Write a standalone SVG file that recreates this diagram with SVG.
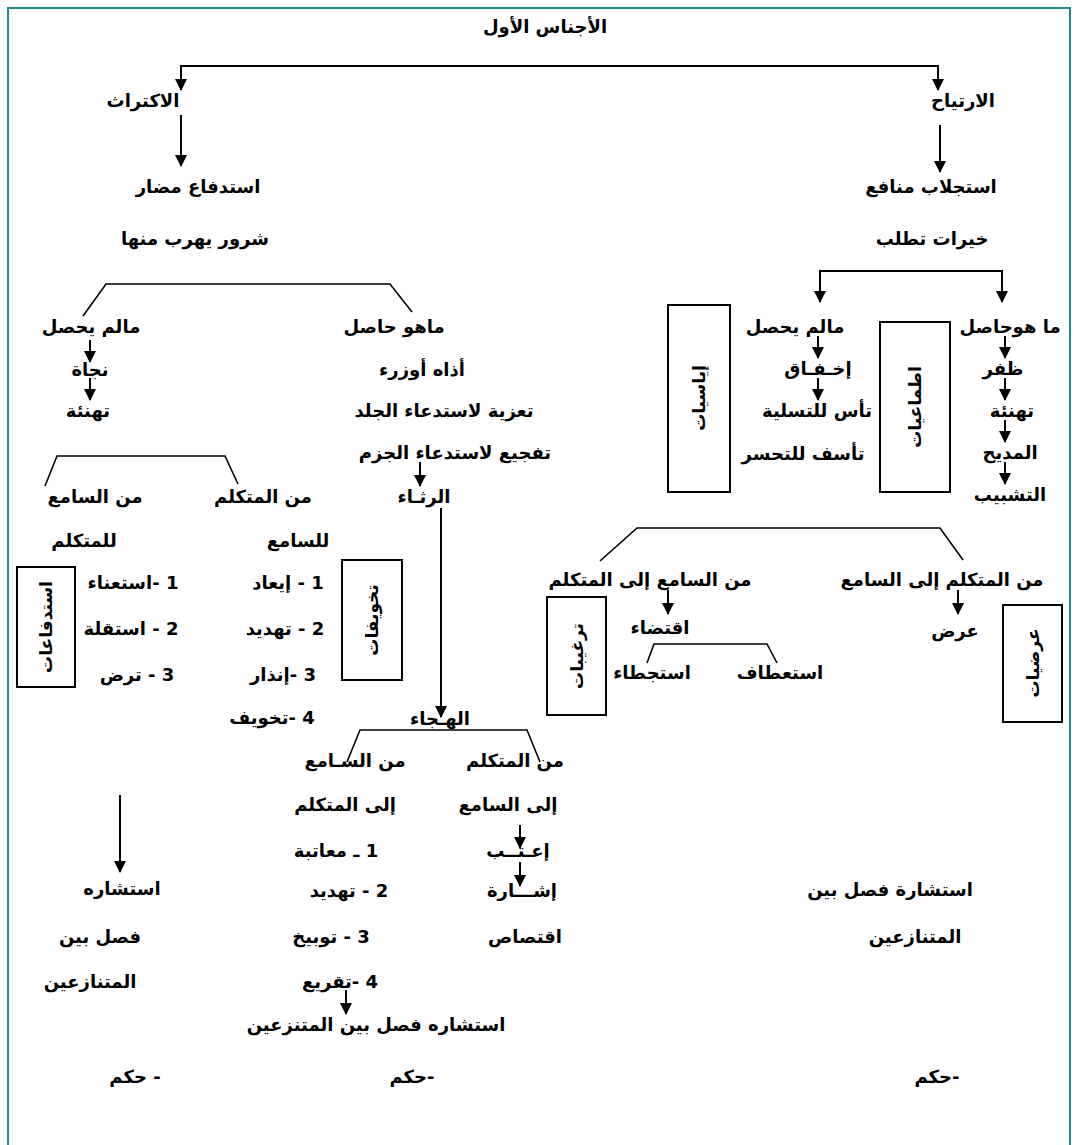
<svg xmlns="http://www.w3.org/2000/svg" width="1075" height="1145" viewBox="0 0 1075 1145">
<defs>
<marker id="ah" markerUnits="userSpaceOnUse" markerWidth="12" markerHeight="12" refX="11" refY="6" orient="auto">
<path d="M0,0 L12,6 L0,12 z" fill="#000"/>
</marker>
<style>
text{font-family:"DejaVu Sans","Noto Sans",sans-serif;font-size:18px;font-weight:bold;fill:#000;direction:rtl;text-anchor:middle}
.bx{font-size:17px}
.ln{stroke:#000;stroke-width:2;fill:none}
.br{stroke:#000;stroke-width:1.6;fill:none}
.ar{stroke:#000;stroke-width:2;fill:none;marker-end:url(#ah)}
.box{stroke:#000;stroke-width:2;fill:#fff}
</style>
</defs>
<rect width="1075" height="1145" fill="#fff"/>
<path d="M8,1145 L8,8 L1070,8 L1070,1145" fill="none" stroke="#1a8a8a" stroke-width="2"/>

<g id="connectors">
<path class="ln" d="M181,66 L938,66"/>
<path class="ar" d="M181,65 L181,90"/>
<path class="ar" d="M938,65 L938,90"/>
<path class="ar" d="M181,115 L181,166"/>
<path class="ar" d="M940,125 L940,172"/>
<path class="br" d="M83,316 L106,284 L390,284 L412,312"/>
<path class="ar" d="M90,340 L90,362"/>
<path class="ar" d="M90,378 L90,400"/>
<path class="ar" d="M420,462 L420,486"/>
<path class="ar" d="M441,508 L441,717"/>
<path class="br" d="M45,486 L57,456 L225,456 L238,484"/>
<path class="ln" d="M820,300 L820,271 L1002,271 L1002,300"/>
<path class="ar" d="M820,280 L820,302"/>
<path class="ar" d="M1002,280 L1002,302"/>
<path class="ar" d="M818,336 L818,358"/>
<path class="ar" d="M818,378 L818,400"/>
<path class="ar" d="M1005,336 L1005,358"/>
<path class="ar" d="M1005,378 L1005,400"/>
<path class="ar" d="M1005,420 L1005,442"/>
<path class="ar" d="M1005,462 L1005,484"/>
<path class="br" d="M600,561 L637,528 L940,528 L963,560"/>
<path class="ar" d="M668,590 L668,614"/>
<path class="br" d="M647,663 L654,644 L767,644 L777,663"/>
<path class="ar" d="M958,590 L958,614"/>
<path class="br" d="M347,762 L360,730 L527,730 L540,762"/>
<path class="ar" d="M520,825 L520,848"/>
<path class="ar" d="M520,862 L520,886"/>
<path class="ar" d="M120,795 L120,872"/>
<path class="ar" d="M346,990 L346,1014"/>
</g>

<g id="title"><text x="545" y="33">الأجناس الأول</text></g>
<g id="n-iktirath"><text x="143" y="107">الاكتراث</text></g>
<g id="n-irtiyah"><text x="963" y="107">الارتياح</text></g>
<g id="n-istidfa"><text x="198" y="193">استدفاع مضار</text></g>
<g id="n-istijlab"><text x="931" y="193">استجلاب منافع</text></g>
<g id="n-shurur"><text x="195" y="245">شرور يهرب منها</text></g>
<g id="n-khayrat"><text x="932" y="245">خيرات تطلب</text></g>

<g id="n-lm-left"><text x="91" y="333">مالم يحصل</text></g>
<g id="n-najat"><text x="90" y="376">نجاة</text></g>
<g id="n-tahnia-left"><text x="88" y="417">تهنئة</text></g>
<g id="n-mh-left"><text x="394" y="333">ماهو حاصل</text></g>
<g id="n-adhah"><text x="422" y="376">أذاه أوزرء</text></g>
<g id="n-taziya"><text x="444" y="417">تعزية لاستدعاء الجلد</text></g>
<g id="n-tafji"><text x="455" y="459">تفجيع لاستدعاء الجزم</text></g>
<g id="n-ritha"><text x="424" y="503">الرثـاء</text></g>

<g id="n-minsami-l"><text x="95" y="503">من السامع</text></g>
<g id="n-minmutak-l"><text x="263" y="503">من المتكلم</text></g>
<g id="n-lilmutak"><text x="84" y="547">للمتكلم</text></g>
<g id="n-lilsami"><text x="298" y="547">للسامع</text></g>

<g id="box-istidfaat"><rect class="box" x="17" y="567" width="58" height="120"/><text class="bx" transform="translate(52,627) rotate(-90)">استدفاعات</text></g>
<g id="n-l1"><text x="133" y="589">1 -استعناء</text></g>
<g id="n-l2"><text x="131" y="635">2 - استقلة</text></g>
<g id="n-l3"><text x="137" y="681">3 - ترض</text></g>
<g id="n-m1"><text x="288" y="589">1 - إيعاد</text></g>
<g id="n-m2"><text x="285" y="635">2 - تهديد</text></g>
<g id="n-m3"><text x="283" y="681">3 -إنذار</text></g>
<g id="n-m4"><text x="272" y="724">4 -تخويف</text></g>
<g id="box-takhwifat"><rect class="box" x="342" y="560" width="60" height="120"/><text class="bx" transform="translate(378,620) rotate(-90)">تخويفات</text></g>

<g id="n-hija"><text x="440" y="725">الهـجاء</text></g>
<g id="n-minsami-m"><text x="355" y="767">من السـامع</text></g>
<g id="n-minmutak-m"><text x="515" y="767">من المتكلم</text></g>
<g id="n-ila-mutak"><text x="345" y="811">إلى المتكلم</text></g>
<g id="n-ila-sami"><text x="508" y="811">إلى السامع</text></g>
<g id="n-h1"><text x="336" y="857">1 ـ معاتبة</text></g>
<g id="n-h2"><text x="349" y="897">2 - تهديد</text></g>
<g id="n-h3"><text x="331" y="943">3 - توبيخ</text></g>
<g id="n-h4"><text x="340" y="988">4 -تقريع</text></g>
<g id="n-itab"><text x="518" y="857">إعـتــب</text></g>
<g id="n-ishara"><text x="522" y="897">إشـــارة</text></g>
<g id="n-iqtisas"><text x="525" y="943">اقتصاص</text></g>
<g id="n-istishara-m"><text x="376" y="1031">استشاره فصل بين المتنزعين</text></g>

<g id="n-istishara-l"><text x="122" y="895">استشاره</text></g>
<g id="n-fasl-l"><text x="100" y="943">فصل بين</text></g>
<g id="n-mutanazi-l"><text x="90" y="988">المتنازعين</text></g>

<g id="n-lm-right"><text x="795" y="333">مالم يحصل</text></g>
<g id="n-mh-right"><text x="1010" y="333">ما هوحاصل</text></g>
<g id="box-iyasiyat"><rect class="box" x="668" y="305" width="62" height="187"/><text class="bx" transform="translate(705,398) rotate(-90)">إياسيات</text></g>
<g id="box-itmaiyat"><rect class="box" x="880" y="322" width="70" height="170"/><text class="bx" transform="translate(921,407) rotate(-90)">اطماعيات</text></g>
<g id="n-ikhfaq"><text x="818" y="375">إخـفـاق</text></g>
<g id="n-taas"><text x="817" y="417">تأس للتسلية</text></g>
<g id="n-taassuf"><text x="803" y="460">تأسف للتحسر</text></g>
<g id="n-zafar"><text x="1003" y="375">ظفر</text></g>
<g id="n-tahnia-r"><text x="1012" y="417">تهنئة</text></g>
<g id="n-madih"><text x="1010" y="459">المديح</text></g>
<g id="n-tashbib"><text x="1010" y="501">التشبيب</text></g>

<g id="n-sami-mutak"><text x="650" y="586">من السامع إلى المتكلم</text></g>
<g id="n-mutak-sami"><text x="942" y="586">من المتكلم إلى السامع</text></g>
<g id="n-iqtida"><text x="660" y="634">اقتضاء</text></g>
<g id="n-istijda"><text x="652" y="679">استجطاء</text></g>
<g id="n-istitaf"><text x="780" y="679">استعطاف</text></g>
<g id="n-ard"><text x="955" y="637">عرض</text></g>
<g id="box-targhibat"><rect class="box" x="547" y="597" width="59" height="118"/><text class="bx" transform="translate(583,656) rotate(-90)">ترغيبات</text></g>
<g id="box-ardiyat"><rect class="box" x="1003" y="605" width="59" height="117"/><text class="bx" transform="translate(1039,663) rotate(-90)">عرضيات</text></g>

<g id="n-istishara-r"><text x="890" y="896">استشارة فصل بين</text></g>
<g id="n-mutanazi-r"><text x="915" y="943">المتنازعين</text></g>

<g id="n-hukm-l"><text x="135" y="1083">- حكم</text></g>
<g id="n-hukm-m"><text x="412" y="1083">-حكم</text></g>
<g id="n-hukm-r"><text x="937" y="1083">-حكم</text></g>
</svg>
